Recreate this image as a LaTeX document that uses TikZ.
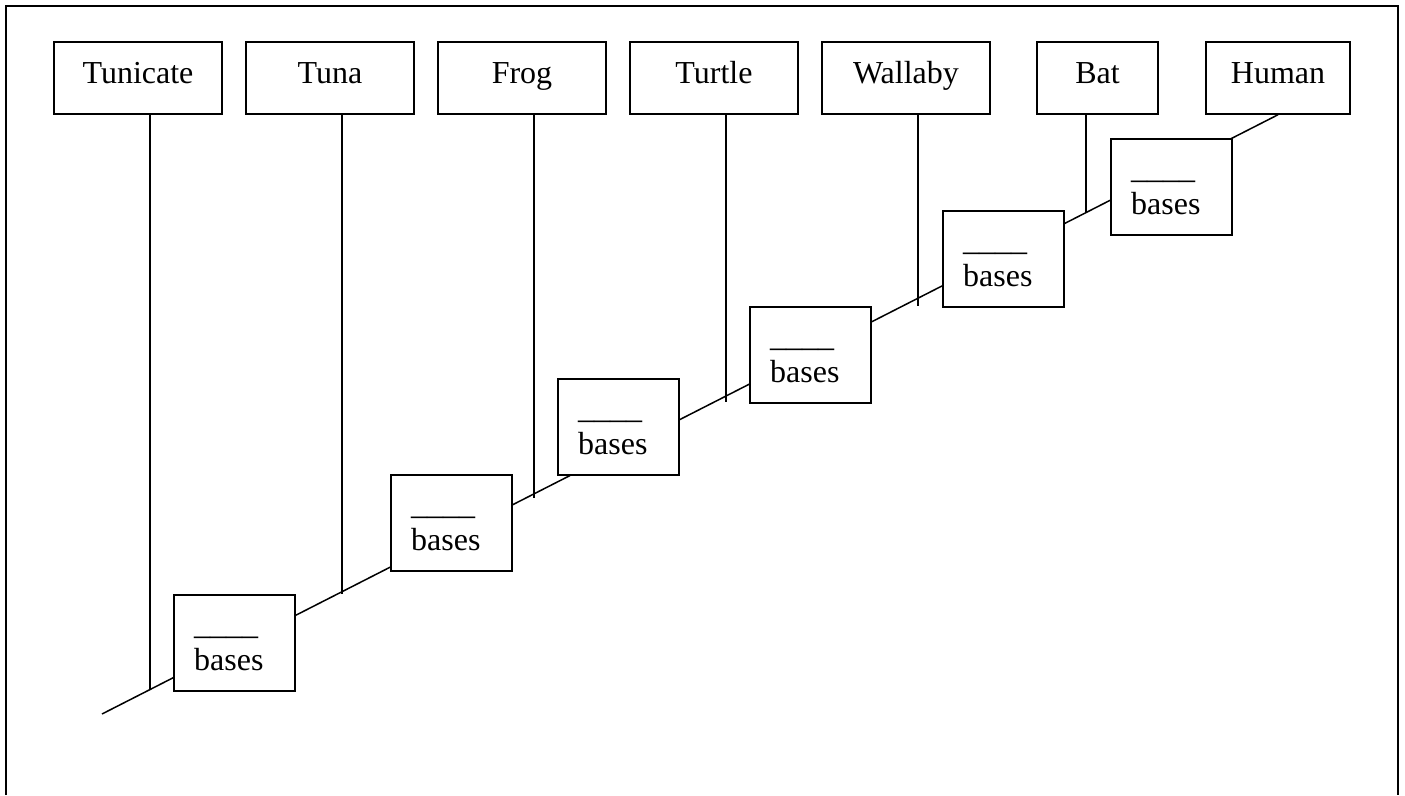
\documentclass[tikz,border=0pt]{standalone}
\usepackage{fontspec}
\setmainfont{Liberation Serif}
\begin{document}
\begin{tikzpicture}[x=1pt,y=-1pt,
  every node/.style={font=\fontsize{32}{38}\selectfont},
  taxon/.style={draw, line width=1.5pt, minimum height=72pt, inner sep=0pt, text height=20pt, text depth=10pt},
  basebox/.style={draw, fill=white, line width=1.5pt, minimum width=121pt, minimum height=96pt, inner sep=0pt, anchor=north west},
  lbl/.style={anchor=base west, inner sep=0pt},
  wire/.style={line width=1.5pt},
  frame/.style={line width=2pt}]
\useasboundingbox (0,0) rectangle (1405,795);
\draw[frame] (6,795) -- (6,6) -- (1398,6) -- (1398,795);
% taxa
\node[taxon, minimum width=168pt] (tun) at (138,78) {Tunicate};
\node[taxon, minimum width=168pt] (tuna) at (330,78) {Tuna};
\node[taxon, minimum width=168pt] (frog) at (522,78) {Frog};
\node[taxon, minimum width=168pt] (turt) at (714,78) {Turtle};
\node[taxon, minimum width=168pt] (wall) at (906,78) {Wallaby};
\node[taxon, minimum width=121pt] (bat) at (1097.5,78) {Bat};
\node[taxon, minimum width=144pt] (hum) at (1278,78) {Human};
% main line
\coordinate (root) at (102,714);
\draw[wire] (root) -- (hum.south);
% branch ends
\coordinate (e1) at (150,689);
\coordinate (e2) at (342,594);
\coordinate (e3) at (534,498);
\coordinate (e4) at (726,402);
\coordinate (e5) at (918,306);
\coordinate (e6) at (1086,212);
\draw[wire] (tun.south -| e1) -- (e1);
\draw[wire] (tuna.south -| e2) -- (e2);
\draw[wire] (frog.south -| e3) -- (e3);
\draw[wire] (turt.south -| e4) -- (e4);
\draw[wire] (wall.south -| e5) -- (e5);
\draw[wire] (bat.south -| e6) -- (e6);
% bases boxes
\foreach \n/\x/\y in {1/173/594, 2/390/474, 3/557/378, 4/749/306, 5/942/210, 6/1110/138} {
  \node[basebox] (b\n) at (\x,\y) {};
  \node[lbl] (u\n) at ([shift={(21,40)}]b\n.north west) {\_\_\_\_};
  \node[lbl] (t\n) at ([shift={(21,76)}]b\n.north west) {bases};
}
\end{tikzpicture}
\end{document}
